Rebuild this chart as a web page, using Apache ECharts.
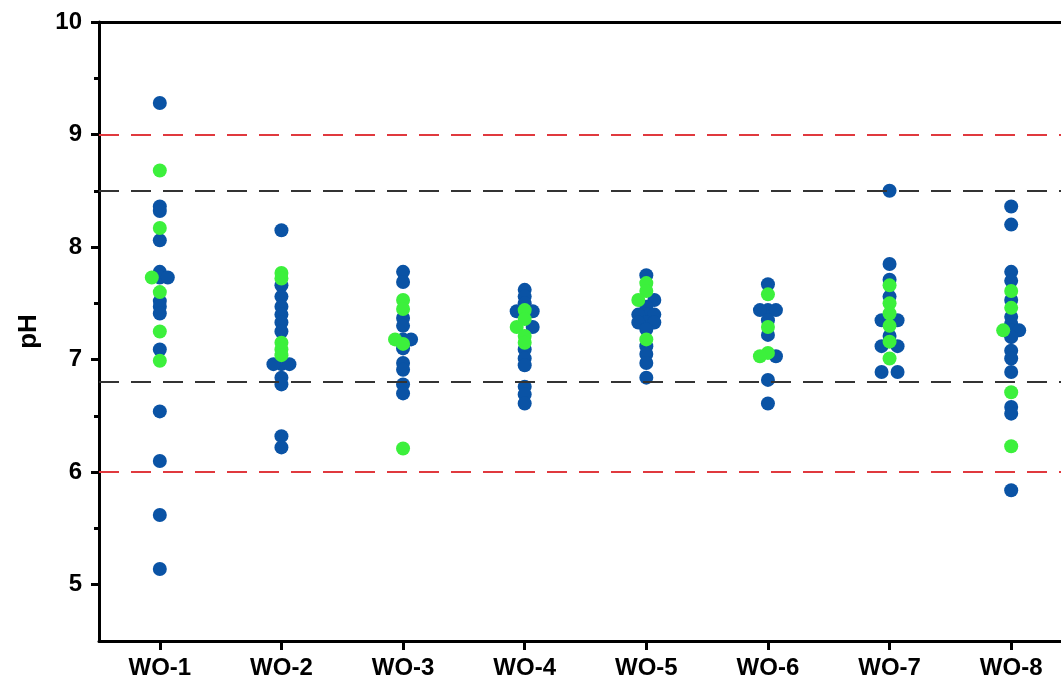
<!DOCTYPE html>
<html><head><meta charset="utf-8">
<script src="https://cdn.jsdelivr.net/npm/echarts@6/dist/echarts.min.js"></script>
<style>html,body{margin:0;padding:0;background:#fff}#c{width:1061px;height:683px}</style>
</head><body><div id="c"></div>
<script>
const categories = ['WO-1', 'WO-2', 'WO-3', 'WO-4', 'WO-5', 'WO-6', 'WO-7', 'WO-8'];
const blueWO1 = [9.28, 8.36, 8.32, 8.06, 7.78, 7.73, 7.73, 7.52, 7.47, 7.41, 7.09, 6.54, 6.10, 5.62, 5.14];
const blueWO2 = [8.15, 7.66, 7.56, 7.47, 7.40, 7.33, 7.25, 6.96, 6.96, 6.96, 6.84, 6.78, 6.32, 6.22];
const blueWO3 = [7.78, 7.69, 7.37, 7.30, 7.18, 7.18, 7.10, 6.97, 6.91, 6.78, 6.70];
const blueWO4 = [7.62, 7.56, 7.50, 7.43, 7.43, 7.29, 7.09, 7.01, 6.95, 6.76, 6.69, 6.61];
const blueWO5 = [7.75, 7.53, 7.47, 7.40, 7.40, 7.40, 7.33, 7.33, 7.33, 7.27, 7.12, 7.05, 6.97, 6.84];
const blueWO6 = [7.67, 7.44, 7.44, 7.44, 7.35, 7.22, 7.03, 6.82, 6.61];
const blueWO7 = [8.50, 7.85, 7.71, 7.56, 7.35, 7.35, 7.21, 7.12, 7.12, 6.89, 6.89];
const blueWO8 = [8.36, 8.20, 7.78, 7.70, 7.53, 7.38, 7.32, 7.26, 7.26, 7.20, 7.08, 7.01, 6.89, 6.58, 6.52, 5.84];
const greenWO1 = [8.68, 8.17, 7.73, 7.60, 7.25, 6.99];
const greenWO2 = [7.77, 7.72, 7.15, 7.09, 7.04];
const greenWO3 = [7.53, 7.45, 7.18, 7.14, 6.21];
const greenWO4 = [7.44, 7.36, 7.29, 7.21, 7.15];
const greenWO5 = [7.68, 7.61, 7.53, 7.18];
const greenWO6 = [7.58, 7.29, 7.06, 7.03];
const greenWO7 = [7.66, 7.50, 7.41, 7.30, 7.16, 7.01];
const greenWO8 = [7.61, 7.46, 7.26, 6.71, 6.23];
const blueValues = [blueWO1, blueWO2, blueWO3, blueWO4, blueWO5, blueWO6, blueWO7, blueWO8];
const greenValues = [greenWO1, greenWO2, greenWO3, greenWO4, greenWO5, greenWO6, greenWO7, greenWO8];
const yMajorTicks = [5, 6, 7, 8, 9, 10];
const yMinorTicks = [5.5, 6.5, 7.5, 8.5, 9.5];
const yRange = [4.5, 10];
const redLimits = [6, 9];
const blackLimits = [6.8, 8.5];

const STEP = 8;
const blueData = [], greenData = [];
categories.forEach((c, i) => {
  const pts = [];
  blueValues[i].forEach(v => pts.push({ v, s: 'b' }));
  greenValues[i].forEach(v => pts.push({ v, s: 'g' }));
  const groups = {};
  pts.forEach(p => { const k = p.v.toFixed(2); (groups[k] = groups[k] || []).push(p); });
  Object.values(groups).forEach(g => {
    const n = g.length;
    const slots = n % 2 ? [0] : [];
    for (let k = 1; slots.length < n; k++) slots.push(k * STEP, -k * STEP);
    g.forEach((p, j) => { p.dx = slots[j]; });
  });
  pts.forEach(p => {
    const item = { value: [i, p.v], symbolOffset: [p.dx, 0] };
    (p.s === 'b' ? blueData : greenData).push(item);
  });
});

const FONT = 'Liberation Sans, Arial, sans-serif';
const chart = echarts.init(document.getElementById('c'), null, { renderer: 'canvas' });
const dash = [20, 12];
chart.setOption({
  animation: false,
  backgroundColor: '#fff',
  grid: { left: 99, top: 22, bottom: 42, width: 973, containLabel: false, outerBoundsMode: 'none' },
  xAxis: [{
    type: 'category', data: categories, position: 'bottom',
    axisLine: { show: true, lineStyle: { color: '#000', width: 3 } },
    axisTick: { show: true, alignWithLabel: true, length: 9, lineStyle: { color: '#000', width: 3 } },
    axisLabel: { color: '#000', fontFamily: FONT, fontWeight: 'bold', fontSize: 24, margin: 15 },
    splitLine: { show: false }
  }, {
    type: 'category', data: categories, position: 'top',
    axisLine: { show: true, lineStyle: { color: '#000', width: 3 } },
    axisTick: { show: false }, axisLabel: { show: false }, splitLine: { show: false }
  }],
  yAxis: [{
    type: 'value', min: yRange[0], max: yRange[1], position: 'left',
    name: 'pH', nameLocation: 'middle', nameGap: 57,
    nameTextStyle: { color: '#000', fontFamily: FONT, fontWeight: 'bold', fontSize: 26 },
    axisLine: { show: true, lineStyle: { color: '#000', width: 3 } },
    axisTick: { show: true, length: 8, customValues: yMajorTicks, lineStyle: { color: '#000', width: 3 } },
    axisLabel: { color: '#000', fontFamily: FONT, fontWeight: 'bold', fontSize: 24, margin: 17, customValues: yMajorTicks },
    splitLine: { show: false }
  }, {
    type: 'value', min: yRange[0], max: yRange[1], position: 'left',
    axisLine: { show: false },
    axisTick: { show: true, length: 5, customValues: yMinorTicks, lineStyle: { color: '#000', width: 3 } },
    axisLabel: { show: false }, splitLine: { show: false }
  }],
  series: [{
    type: 'scatter', name: 'blue', data: blueData, symbol: 'circle', symbolSize: 14,
    itemStyle: { color: '#0a53a5', opacity: 1 }, z: 3,
    markLine: {
      silent: true, symbol: 'none', label: { show: false }, animation: false,
      data: redLimits.map(v => ({ yAxis: v, lineStyle: { color: '#e0393e', width: 2, type: dash } }))
        .concat(blackLimits.map(v => ({ yAxis: v, lineStyle: { color: '#333', width: 2, type: dash } })))
    }
  }, {
    type: 'scatter', name: 'green', data: greenData, symbol: 'circle', symbolSize: 14,
    itemStyle: { color: '#3cf03c', opacity: 1 }, z: 4
  }]
});
</script></body></html>
